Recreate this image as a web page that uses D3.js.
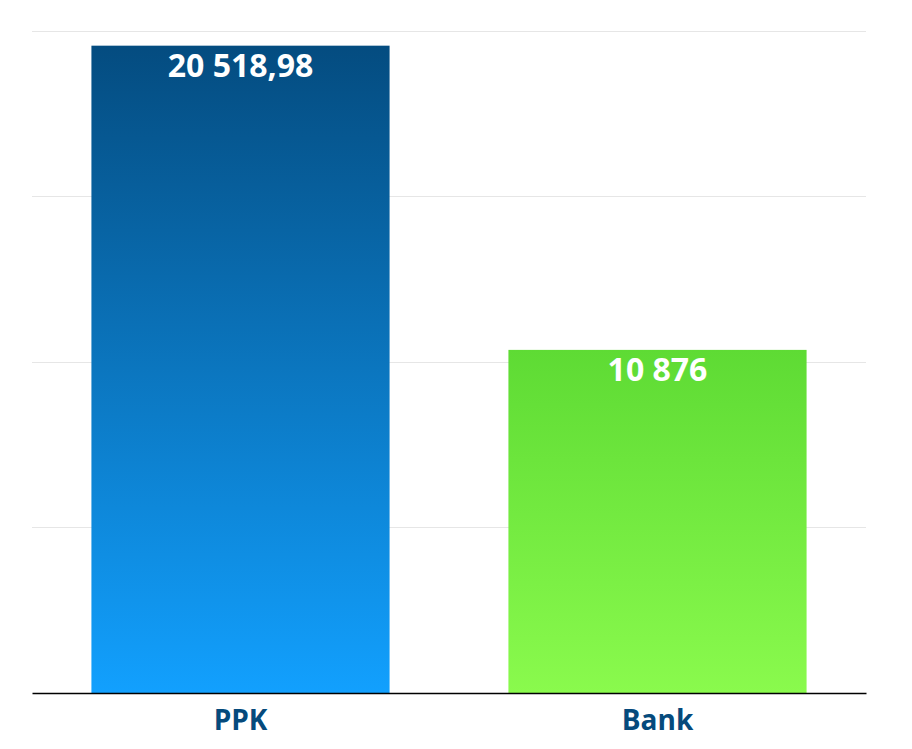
<!DOCTYPE html>
<html>
<head>
<meta charset="utf-8">
<script src="https://cdn.jsdelivr.net/npm/d3@7"></script>
<style>
body { margin: 0; background: #fff; }
svg { display: block; }
</style>
</head>
<body>
<svg id="chart" width="912" height="749"></svg>
<script>
const categories = ["PPK", "Bank"];
const values = [20518.98, 10876];
const valueLabels = ["20 518,98", "10 876"];
const yTicks = [0, 5250, 10500, 15750, 21000];
const colorsTop = ["#044c80", "#5edb34"];
const colorsBottom = ["#12a0fe", "#8afa4d"];

const svg = d3.select("#chart");
const margin = { left: 32, right: 46, top: 30, bottom: 56 };
const W = 912, H = 749;
const x = d3.scaleBand().domain(categories).range([margin.left, W - margin.right]).paddingInner(0.285).paddingOuter(0.1425);
const y = d3.scaleLinear().domain([0, 21000]).range([H - margin.bottom, margin.top + 0.5]);

const defs = svg.append("defs");
categories.forEach((c, i) => {
  const g = defs.append("linearGradient").attr("id", "grad" + i)
    .attr("x1", 0).attr("y1", 0).attr("x2", 0).attr("y2", 1);
  g.append("stop").attr("offset", "0%").attr("stop-color", colorsTop[i]);
  g.append("stop").attr("offset", "100%").attr("stop-color", colorsBottom[i]);
});

// gridlines
svg.append("g").selectAll("line").data(yTicks.slice(1)).join("line")
  .attr("x1", margin.left).attr("x2", W - margin.right)
  .attr("y1", d => Math.round(y(d)) + 0.5).attr("y2", d => Math.round(y(d)) + 0.5)
  .attr("stroke", "#e6e6e6").attr("stroke-width", 1);

// bars
svg.append("g").selectAll("rect").data(values).join("rect")
  .attr("x", (d, i) => x(categories[i]))
  .attr("width", x.bandwidth())
  .attr("y", d => y(d))
  .attr("height", d => y(0) - y(d))
  .attr("fill", (d, i) => `url(#grad${i})`);

// value labels
svg.append("g").selectAll("text").data(values).join("text")
  .attr("x", (d, i) => x(categories[i]) + x.bandwidth() / 2)
  .attr("y", d => y(d) + 31)
  .attr("text-anchor", "middle")
  .attr("fill", "#fff")
  .attr("font-family", "'Open Sans', sans-serif")
  .attr("font-weight", "bold")
  .attr("font-size", 32)
  .text((d, i) => valueLabels[i]);

// x axis
const xAxis = d3.axisBottom(x).tickSize(0).tickPadding(17);
const ax = svg.append("g").attr("transform", `translate(0,${y(0)})`).call(xAxis);
ax.select(".domain").attr("stroke", "#000").attr("stroke-width", 1.3);
ax.selectAll("text")
  .attr("fill", "#054a7c")
  .attr("font-family", "'Open Sans', sans-serif")
  .attr("font-weight", "bold")
  .attr("font-size", 28)
  .attr("dy", "0.71em");
</script>
</body>
</html>
